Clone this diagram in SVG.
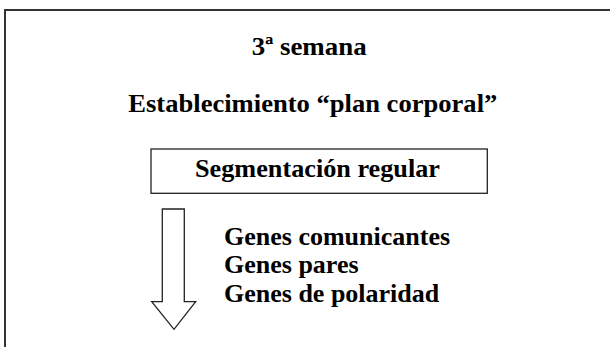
<svg xmlns="http://www.w3.org/2000/svg" width="610" height="347" viewBox="0 0 610 347">
<style>
.box{fill:#fff;stroke:#222;stroke-width:1.3}
.t{font-family:'Liberation Serif','Times New Roman',serif;font-weight:700;font-size:26px;fill:#000}
</style>
<rect width="610" height="347" fill="#fff"/>
<g id="frame"><rect x="5" y="10" width="640" height="360" fill="none" stroke="#333" stroke-width="2"/></g>
<g class="t">
<g id="title"><text x="251.7" y="55" textLength="115" lengthAdjust="spacingAndGlyphs">3ª semana</text></g>
<g id="subtitle"><text x="128.3" y="111.7" textLength="369" lengthAdjust="spacingAndGlyphs">Establecimiento “plan corporal”</text></g>
<g id="segmentacion">
<rect class="box" x="151" y="149" width="336.3" height="44.3"/>
<text x="195" y="177.3" textLength="245" lengthAdjust="spacingAndGlyphs">Segmentación regular</text>
</g>
<g id="genes">
<text x="224" y="245">Genes comunicantes</text>
<text x="224" y="273.3">Genes pares</text>
<text x="224" y="301.7">Genes de polaridad</text>
</g>
</g>
<g id="connectors">
<polygon class="box" points="162.3,209 184.3,209 184.3,301.7 195.7,301.7 174,329.3 151.7,301.7 162.3,301.7"/>
</g>
</svg>
